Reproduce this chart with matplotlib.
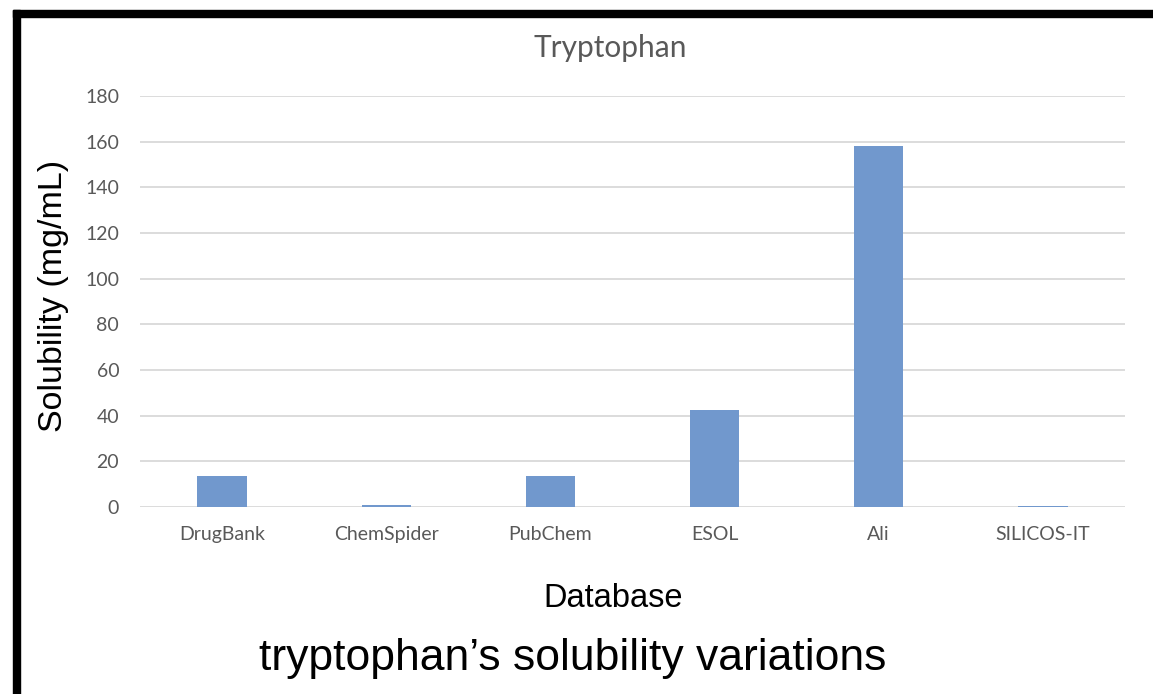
import matplotlib.pyplot as plt
from matplotlib.patches import Rectangle

databases = ["DrugBank", "ChemSpider", "PubChem", "ESOL", "Ali", "SILICOS-IT"]
solubility = [13.4, 1.0, 13.4, 42.4, 158.0, 0.3]
yticks = [0, 20, 40, 60, 80, 100, 120, 140, 160, 180]

fig = plt.figure(figsize=(11.53, 6.94), dpi=100)
ax = fig.add_axes([0.1214, 0.2695, 0.8543, 0.5922])

ax.bar(range(len(databases)), solubility, width=0.3, color="#7198CD", zorder=3)
ax.set_xlim(-0.5, len(databases) - 0.5)
ax.set_ylim(0, 180)
ax.set_yticks(yticks)
ax.set_xticks(range(len(databases)))
ax.set_xticklabels(databases)
ax.grid(axis="y", color="#d9d9d9", linewidth=1.3, zorder=0)
for s in ax.spines.values():
    s.set_visible(False)
ax.tick_params(axis="both", length=0, colors="#595959", labelsize=14)
ax.tick_params(axis="y", pad=15)
ax.tick_params(axis="x", pad=14)
for lab in ax.get_xticklabels() + ax.get_yticklabels():
    lab.set_family("Lato")

# chart title
fig.text(0.529, 0.918, "Tryptophan", ha="center", va="baseline",
         fontsize=21.5, color="#595959", family="Lato")

# axis labels, large arial-ish
fig.text(0.0468, 0.5735, "Solubility (mg/mL)", rotation=90, ha="center",
         va="center", fontsize=24.5, family="Liberation Sans", color="black")
fig.text(0.532, 0.1254, "Database", ha="center", va="baseline",
         fontsize=23.5, family="Liberation Sans", color="black")
fig.text(0.497, 0.0346, "tryptophan\u2019s solubility variations", ha="center",
         va="baseline", fontsize=32, family="Liberation Sans", color="black")

# black frame (top and left)
fig.patches.append(Rectangle((13 / 1153, 1 - 17 / 694), 1, 7 / 694,
                             transform=fig.transFigure, color="black"))
fig.patches.append(Rectangle((13 / 1153, 0), 7 / 1153, 1 - 10 / 694,
                             transform=fig.transFigure, color="black"))

fig.savefig("out.png", dpi=100)
